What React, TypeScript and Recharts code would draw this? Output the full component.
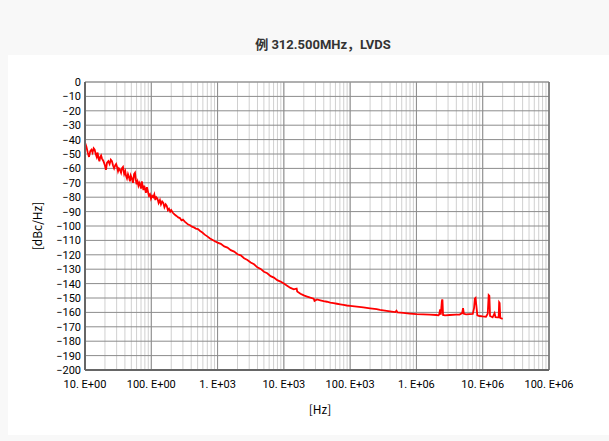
import { CartesianGrid, Line, LineChart, ReferenceLine, XAxis, YAxis } from "recharts"

// offset frequency [Hz] and phase noise [dBc/Hz]
const freqHz = [
  10, 10.5, 11, 11.5, 12, 12.5, 13, 13.5, 14, 14.5,
  15, 15.5, 16, 16.5, 17, 17.5, 18, 19, 20, 20.7,
  21.5, 22.5, 23.5, 24.5, 25.5, 26.5, 27.5, 28.5, 29.5, 30.5,
  31.5, 32.5, 33.7, 35, 36, 37.4, 39, 40.5, 41.5, 43,
  44.5, 46, 47.7, 49, 51, 53, 55, 56.8, 58.5, 60,
  62, 64, 66, 67.5, 70, 72, 74, 76, 78, 80.4,
  83, 86, 89, 92, 95.6, 99, 103, 107, 111, 115,
  119, 124, 129, 135, 140, 146, 152, 158, 165, 171,
  178, 185, 193, 200, 213, 225, 240, 255, 270, 285,
  300, 320, 340, 360, 385, 410, 440, 470, 506, 545,
  590, 640, 700, 760, 830, 910,
  1000, 1120, 1260, 1410, 1580, 1780, 2000, 2240, 2510, 2820,
  3160, 3550, 3980, 4470, 5010, 5620, 6310, 7080, 7940, 8910,
  10000, 11200, 12600, 14100, 15600, 15900, 17800, 20000, 22400, 25100,
  28200, 29000, 31600, 35500, 39800, 44700, 50100, 56200, 63100, 70800,
  79400, 89100, 100000, 126000, 158000, 200000, 251000, 282000, 316000, 398000,
  480000, 500000, 520000, 631000, 794000, 1000000, 1260000, 1580000, 2000000, 2150000,
  2200000, 2280000, 2330000, 2420000, 2470000, 2520000, 2700000, 3160000, 3980000, 4470000,
  4900000, 5050000, 5200000, 5620000, 6310000, 7080000, 7400000, 7600000, 7800000, 8000000,
  8300000, 8910000, 10000000, 11200000, 11900000, 12300000, 12600000, 12900000, 14100000, 15100000,
  15600000, 16600000, 17400000, 17700000, 18000000, 18400000, 19200000, 20000000,
]

const noiseDbc = [
  -42, -45, -49, -52, -48, -47, -49, -46, -47, -50,
  -52, -49, -53, -55, -52, -51, -53, -55, -58, -61,
  -56, -55, -57, -54, -55, -58, -60, -58, -57, -59,
  -62, -60, -61, -63, -60, -59, -64, -62, -65, -67,
  -64, -66, -69, -65, -67, -70, -64, -63, -68, -71,
  -69, -72, -70, -71, -74, -69, -72, -75, -72, -74,
  -77, -73, -76, -79, -78, -81, -79, -80, -78, -82,
  -80, -81, -84, -82, -85, -83, -84, -87, -85, -86,
  -89, -88, -90, -89, -91, -92, -93, -94, -94.5, -96,
  -95.5, -97, -98, -99, -99.5, -100.5, -101, -101.8, -102.2, -103.5,
  -104.5, -106, -107.2, -108.5, -109.5, -110.6,
  -111.5, -112.4, -114.2, -115, -116.8, -117.8, -119.6, -120.4, -122.4, -123.6,
  -125.3, -126.6, -128.7, -129.8, -131.8, -132.8, -134.8, -135.8, -137.6, -138.6,
  -140, -141.5, -143, -144, -143.5, -145.5, -147, -148.2, -149, -149.8,
  -150.5, -152, -151, -151.6, -152.2, -152.6, -153.2, -153.6, -154, -154.4,
  -154.8, -155.2, -155.5, -156, -156.5, -157.2, -157.8, -158.3, -158.6, -159.3,
  -159.8, -158.8, -160, -160.4, -160.8, -161.2, -161.4, -161.6, -161.8, -162,
  -161.5, -158, -161.6, -152, -151, -161.8, -162, -161.8, -161.6, -161.5,
  -160.5, -157, -161, -161.4, -161.2, -161, -157, -150.5, -150, -155,
  -162, -162.5, -162.8, -163, -161, -148, -148.5, -162.5, -163.4, -160.5,
  -163.3, -163.5, -163.4, -153, -153.5, -163.8, -164.2, -164.5,
]

const decadeTicks = [10, 100, 1e3, 1e4, 1e5, 1e6, 1e7, 1e8]
const decadeLabels = ["10. E+00", "100. E+00", "1. E+03", "10. E+03", "100. E+03", "1. E+06", "10. E+06", "100. E+06"]
const minorSteps = [2, 3, 4, 5, 6, 7, 8, 9]
const dbTicks = [
  0, -10, -20, -30, -40, -50, -60, -70, -80, -90, -100,
  -110, -120, -130, -140, -150, -160, -170, -180, -190, -200,
]

const data = freqHz.map((f, i) => ({ f, db: noiseDbc[i] }))

// every decade plus its 2..9 multiples, for the log grid
const gridTicks = decadeTicks.flatMap((d) => (d < 1e8 ? [d, ...minorSteps.map((m) => d * m)] : [d]))

const fmtX = (v: number) => {
  const i = decadeTicks.indexOf(v)
  return i >= 0 ? decadeLabels[i] : ""
}
const fmtY = (v: number) => (v < 0 ? `\u2212${-v}` : `${v}`)

const FONT = "'Noto Sans CJK JP', 'Noto Sans', sans-serif"
const TICK = { fill: "#000", fontSize: 11, fontFamily: "Roboto, sans-serif" }

export default function App() {
  return (
    <div style={{ position: "absolute", left: 0, top: 0, width: 609, height: 441, background: "#f8f8f8", overflow: "hidden" }}>
      <div
        style={{
          position: "absolute",
          left: 0,
          width: 646,
          top: 36,
          textAlign: "center",
          fontFamily: "Roboto, 'Noto Sans CJK JP', sans-serif",
          fontWeight: 700,
          fontSize: 13,
          color: "#333",
          lineHeight: "18px",
        }}
      >
        例 312.500MHz，LVDS
      </div>
      <div style={{ position: "absolute", left: 8, top: 55, width: 601, height: 380, background: "#fff" }} />
      <div
        style={{
          position: "absolute",
          left: 36,
          top: 226,
          transform: "translate(-50%, -50%) rotate(-90deg)",
          fontFamily: FONT,
          fontSize: 12,
          color: "#000",
          whiteSpace: "nowrap",
        }}
      >
        [dBc/Hz]
      </div>
      <div
        style={{
          position: "absolute",
          left: 320,
          top: 408,
          transform: "translate(-50%, -50%)",
          fontFamily: FONT,
          fontSize: 12,
          color: "#000",
        }}
      >
        [Hz]
      </div>
      <div style={{ position: "absolute", left: 0, top: 0 }}>
        <LineChart width={609} height={441} data={data} margin={{ top: 82, right: 60, bottom: 0, left: 0 }}>
          <CartesianGrid horizontal={false} stroke="#d0d0d0" />
          <CartesianGrid vertical={false} stroke="#8c8c8c" />
          {decadeTicks.map((d) => (
            <ReferenceLine key={d} x={d} stroke="#8c8c8c" />
          ))}
          <XAxis
            dataKey="f"
            type="number"
            scale="log"
            domain={[10, 1e8]}
            allowDataOverflow
            ticks={gridTicks}
            interval={0}
            tickFormatter={fmtX}
            height={71}
            tickSize={6}
            tickMargin={4}
            tickLine={false}
            axisLine={{ stroke: "#666", strokeWidth: 2 }}
            tick={TICK}
          />
          <YAxis
            type="number"
            domain={[-200, 0]}
            ticks={dbTicks}
            interval={0}
            tickFormatter={fmtY}
            width={85}
            tickSize={4}
            tickMargin={0}
            tickLine={false}
            axisLine={{ stroke: "#666", strokeWidth: 2 }}
            tick={TICK}
          />
          <ReferenceLine y={0} stroke="#999" />
          <ReferenceLine x={1e8} stroke="#777" strokeWidth={1.5} />
          <Line
            dataKey="db"
            type="linear"
            stroke="#ff0000"
            strokeWidth={1.8}
            dot={false}
            isAnimationActive={false}
          />
        </LineChart>
      </div>
    </div>
  )
}
